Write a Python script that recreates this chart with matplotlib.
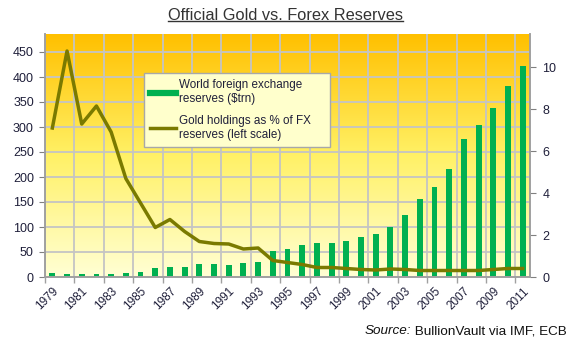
import numpy as np
import matplotlib
matplotlib.use('Agg')
import matplotlib.pyplot as plt
from matplotlib.lines import Line2D
from matplotlib.colors import LinearSegmentedColormap

plt.rcParams['font.family'] = ['Liberation Sans', 'DejaVu Sans']

# Données
years = list(range(1979, 2012))
fx_reserves = [0.19, 0.14, 0.14, 0.14, 0.14, 0.19, 0.24, 0.43, 0.48, 0.48,
               0.63, 0.63, 0.57, 0.68, 0.73, 1.22, 1.35, 1.55, 1.61, 1.62,
               1.74, 1.90, 2.05, 2.38, 2.97, 3.70, 4.28, 5.17, 6.60, 7.24,
               8.08, 9.14, 10.05]
gold_pct = [298, 452, 306, 342, 290, 197, 148, 99, 115, 91,
            71, 67, 66, 56, 58, 33, 29, 25, 19, 19,
            17, 15, 14, 16, 15, 13, 13, 13, 13, 13,
            15, 17, 17]
year_labels = [str(y) for y in years[::2]]

left_top = 486
right_top = left_top / 41.9
txt_color = '#1F1F3A'
grid_color = '#C4C4C4'

fig = plt.figure(figsize=(5.72, 3.43), dpi=100)
ax = fig.add_axes([45 / 572, 66 / 343, 485 / 572, 243 / 343])
ax2 = ax.twinx()

# fond dégradé
cmap = LinearSegmentedColormap.from_list(
    'bg', [(0.0, '#FFFFD4'), (0.5, '#FFF166'), (1.0, '#FFC000')])
grad = np.linspace(0, 1, 256).reshape(-1, 1)
ax.imshow(grad, extent=[0, 1, 0, 1], transform=ax.transAxes, aspect='auto',
          origin='lower', cmap=cmap, zorder=0)

x = np.arange(len(years))
ax.bar(x, fx_reserves, width=0.4, color='#00B050', zorder=2)
ax2.plot(x, gold_pct, color='#7A7A00', lw=2.5, solid_joinstyle='round')

ax.set_xlim(-0.5, len(years) - 0.5)
ax.set_ylim(0, right_top)
ax2.set_ylim(0, left_top)

# axe de droite (barres)
ax.yaxis.tick_right()
ax.set_yticks(range(0, 11, 2))
# axe de gauche (ligne)
ax2.yaxis.tick_left()
ax2.set_yticks(range(0, 451, 50))

# grille
ax.set_yticks(np.arange(50, 460, 50) * right_top / left_top, minor=True)
ax.set_xticks(np.arange(-0.5, len(years) - 1, 2), minor=True)
ax.set_xticks(x[::2])
ax.set_xticklabels(year_labels, rotation=45, ha='right', va='top',
                   rotation_mode='anchor')
ax.grid(which='minor', color=grid_color, lw=1.3)
ax.set_axisbelow(True)

ax.tick_params(axis='x', which='major', length=0, pad=6, labelsize=8.5,
               labelcolor=txt_color)
ax.tick_params(axis='x', which='minor', length=4, color='#A0A0A0', width=1)
ax.tick_params(axis='y', which='minor', length=0)
ax.tick_params(axis='y', which='major', length=4, color='#808080',
               labelsize=9, labelcolor=txt_color, pad=5)
ax2.tick_params(axis='y', length=4, color='#808080', labelsize=9,
                labelcolor=txt_color, pad=4)

for a in (ax, ax2):
    a.spines['top'].set_visible(False)
    for s in ('left', 'right', 'bottom'):
        a.spines[s].set_color('#A0A0A0')
        a.spines[s].set_linewidth(1.2)

# légende
handles = [Line2D([], [], color='#00B050', lw=4.5),
           Line2D([], [], color='#7A7A00', lw=2.5)]
labels = ['World foreign exchange\nreserves (\\$trn)',
          'Gold holdings as % of FX\nreserves (left scale)']
leg = ax2.legend(handles, labels, loc='upper left',
                 bbox_to_anchor=(144 / 572, 1 - 147 / 343, 186 / 572, 74 / 343),
                 bbox_transform=fig.transFigure, mode='expand', fontsize=8.4,
                 frameon=True, fancybox=False, handlelength=2.2,
                 handletextpad=0.25, labelspacing=0.85, borderpad=0.55,
                 borderaxespad=0)
leg.get_frame().set_facecolor('#FFFFCC')
leg.get_frame().set_edgecolor('#A8A8A8')
leg.get_frame().set_alpha(1)
for t in leg.get_texts():
    t.set_color(txt_color)

# titre souligné
title = fig.text(285 / 572, 1 - 15 / 343, 'Official Gold vs. Forex Reserves',
                 ha='center', va='center', fontsize=11.8, color='#333333')
fig.canvas.draw()
bb = title.get_window_extent().transformed(fig.transFigure.inverted())
fig.add_artist(Line2D([bb.x0, bb.x1], [bb.y0 + 0.004, bb.y0 + 0.004],
                      transform=fig.transFigure, color='#333333', lw=1))

# source
src = fig.text(567 / 572, 1 - 331 / 343, ' BullionVault via IMF, ECB',
               ha='right', va='center', fontsize=9.7, color='#111111')
fig.canvas.draw()
sb = src.get_window_extent().transformed(fig.transFigure.inverted())
fig.text(sb.x0, 1 - 331 / 343, 'Source:', ha='right', va='center',
         fontsize=9.7, style='italic', color='#111111')

fig.savefig('out.png', dpi=100)
